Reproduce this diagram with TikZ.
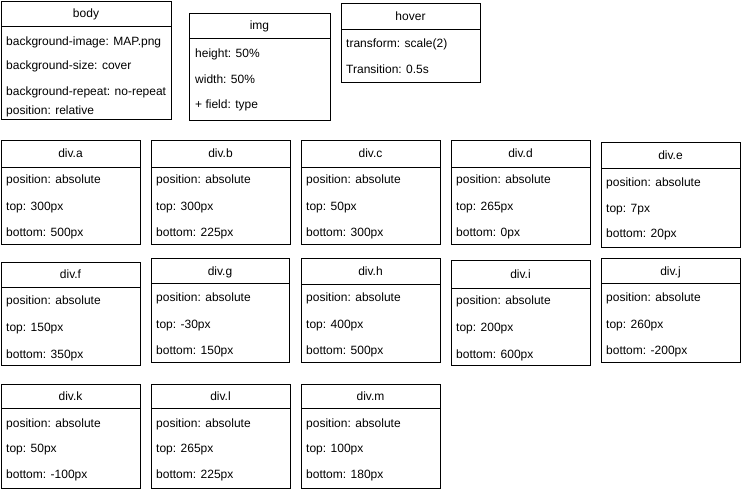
\documentclass[tikz,border=0pt]{standalone}
\usepackage{fontspec}
\setmainfont{Liberation Sans}
\usetikzlibrary{fit}

% A class-style box: outer frame plus a title compartment.
% #1 name, #2 left, #3 top, #4 right, #5 title bottom, #6 bottom, #7 title
\newcommand\cssclass[7]{%
  \coordinate (#1-nw) at (#2,#3);
  \coordinate (#1-se) at (#4,#6);
  \coordinate (#1-hse) at (#4,#5);
  \node[frame, fit=(#1-nw)(#1-se)] (#1) {};
  \node[headbox, fit=(#1-nw)(#1-hse)] (#1-head) {};
  \node[titletext] (#1-title) at ([yshift=-4.3pt]#1-head.center) {#7};
}
% One property line: #1 name, #2 x, #3 baseline y, #4 text
\newcommand\cssrow[4]{\node[proprow] (#1) at (#2,#3) {#4};}

\begin{document}
\begin{tikzpicture}[x=1pt, y=-1pt,
  every node/.style={font=\fontsize{12}{14}\selectfont, text=black},
  frame/.style={draw=black, line width=1pt, inner sep=0pt},
  headbox/.style={draw=black, line width=1pt, inner sep=0pt},
  titletext/.style={anchor=base, inner sep=0pt},
  proprow/.style={anchor=base west, inner sep=0pt}]

\useasboundingbox[fill=white] (0,0) rectangle (741,491);

% ---- top row: page-level rules ----
\cssclass{body}{1}{1}{171}{26}{119}{body}
\cssrow{body-1}{6}{45}{background-image: MAP.png}
\cssrow{body-2}{6}{69}{background-size: cover}
\cssrow{body-3}{6}{95}{background-repeat: no-repeat}
\cssrow{body-4}{6}{114}{position: relative}

\cssclass{img}{189}{13}{330}{38}{120}{img}
\cssrow{img-1}{195}{57.5}{height: 50\%}
\cssrow{img-2}{195}{83}{width: 50\%}
\cssrow{img-3}{195}{108}{+ field: type}

\cssclass{hover}{341}{3}{480}{29}{82}{hover}
\cssrow{hover-1}{346}{47}{transform: scale(2)}
\cssrow{hover-2}{346}{73}{Transition: 0.5s}

% ---- first row of positioned divs ----
\cssclass{diva}{1}{140}{140}{167}{244}{div.a}
\cssrow{diva-1}{6}{183.5}{position: absolute}
\cssrow{diva-2}{6}{210}{top: 300px}
\cssrow{diva-3}{6}{236}{bottom: 500px}

\cssclass{divb}{151}{140}{290}{167}{244}{div.b}
\cssrow{divb-1}{156}{183.5}{position: absolute}
\cssrow{divb-2}{156}{210}{top: 300px}
\cssrow{divb-3}{156}{236}{bottom: 225px}

\cssclass{divc}{301}{140}{440}{167}{244}{div.c}
\cssrow{divc-1}{306}{183.5}{position: absolute}
\cssrow{divc-2}{306}{210}{top: 50px}
\cssrow{divc-3}{306}{236}{bottom: 300px}

\cssclass{divd}{451}{140}{590}{167}{244}{div.d}
\cssrow{divd-1}{456}{183.5}{position: absolute}
\cssrow{divd-2}{456}{210}{top: 265px}
\cssrow{divd-3}{456}{236}{bottom: 0px}

\cssclass{dive}{601}{142}{740}{168}{247}{div.e}
\cssrow{dive-1}{606}{186}{position: absolute}
\cssrow{dive-2}{606}{212}{top: 7px}
\cssrow{dive-3}{606}{237.5}{bottom: 20px}

% ---- second row ----
\cssclass{divf}{1}{262}{140}{287}{365}{div.f}
\cssrow{divf-1}{6}{304}{position: absolute}
\cssrow{divf-2}{6}{331}{top: 150px}
\cssrow{divf-3}{6}{358}{bottom: 350px}

\cssclass{divg}{151}{258}{289}{283.5}{362}{div.g}
\cssrow{divg-1}{156}{301}{position: absolute}
\cssrow{divg-2}{156}{328}{top: -30px}
\cssrow{divg-3}{156}{354.5}{bottom: 150px}

\cssclass{divh}{301}{258}{440}{284}{362}{div.h}
\cssrow{divh-1}{306}{301.5}{position: absolute}
\cssrow{divh-2}{306}{328}{top: 400px}
\cssrow{divh-3}{306}{354.5}{bottom: 500px}

\cssclass{divi}{451}{260}{590}{288}{365}{div.i}
\cssrow{divi-1}{456}{304}{position: absolute}
\cssrow{divi-2}{456}{331}{top: 200px}
\cssrow{divi-3}{456}{358}{bottom: 600px}

\cssclass{divj}{601}{258}{740}{283.5}{362}{div.j}
\cssrow{divj-1}{606}{301}{position: absolute}
\cssrow{divj-2}{606}{328}{top: 260px}
\cssrow{divj-3}{606}{354.5}{bottom: -200px}

% ---- third row ----
\cssclass{divk}{1}{384}{140}{408}{488}{div.k}
\cssrow{divk-1}{6}{427}{position: absolute}
\cssrow{divk-2}{6}{452.5}{top: 50px}
\cssrow{divk-3}{6}{478.5}{bottom: -100px}

\cssclass{divl}{151}{384}{290}{408}{488}{div.l}
\cssrow{divl-1}{156}{427}{position: absolute}
\cssrow{divl-2}{156}{452.5}{top: 265px}
\cssrow{divl-3}{156}{478.5}{bottom: 225px}

\cssclass{divm}{301}{384}{440}{408}{488}{div.m}
\cssrow{divm-1}{306}{427}{position: absolute}
\cssrow{divm-2}{306}{452.5}{top: 100px}
\cssrow{divm-3}{306}{478.5}{bottom: 180px}

\end{tikzpicture}
\end{document}
